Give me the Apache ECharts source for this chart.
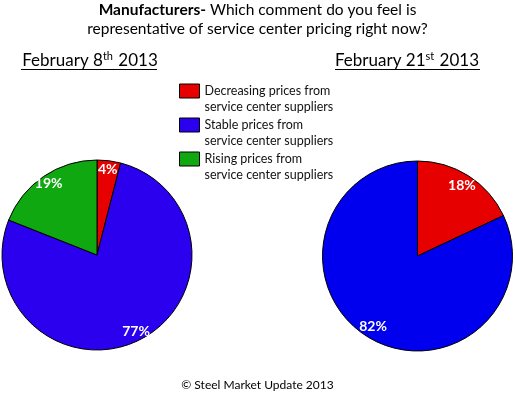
<!DOCTYPE html>
<html>
<head>
<meta charset="utf-8">
<script src="https://cdn.jsdelivr.net/npm/echarts@6/dist/echarts.min.js"></script>
<style>html,body{margin:0;padding:0;background:#fff;}#c{width:515px;height:394px;}</style>
</head>
<body>
<div id="c"></div>
<script>
var categories = ['Decreasing prices from\nservice center suppliers', 'Stable prices from\nservice center suppliers', 'Rising prices from\nservice center suppliers'];
var feb8Values = [4, 77, 19];
var feb21Values = [18, 82];
var feb8Colors = ['#e60000', '#2a00ee', '#10a810'];
var feb21Colors = ['#e60000', '#0000ee'];
var titleLine1 = '{b|Manufacturers-} Which comment do you feel is';
var titleLine2 = 'representative of service center pricing right now?';
var footerText = '\u00a9 Steel Market Update 2013';

var FONT = 'Lato, "Open Sans", sans-serif';

function mainPie(values, colors, center) {
  return {
    type: 'pie', center: center, radius: 95, startAngle: 90, clockwise: true,
    silent: true, animation: false, z: 2,
    label: { show: false }, labelLine: { show: false },
    itemStyle: { borderColor: '#000', borderWidth: 1 },
    data: values.map(function (v, i) {
      return { name: categories[i], value: v, itemStyle: { color: colors[i] } };
    })
  };
}

function labelPie(values, colors, center, r) {
  return {
    type: 'pie', center: center, radius: [0, r], startAngle: 90, clockwise: true,
    silent: true, animation: false, z: 3,
    itemStyle: { color: 'rgba(0,0,0,0)', borderWidth: 0 },
    label: {
      show: true, position: 'inside', color: '#fff', fontFamily: FONT,
      fontWeight: 'bold', fontSize: 14,
      textBorderWidth: 0, textBorderColor: 'rgba(0,0,0,0)', textShadowBlur: 0,
      formatter: '{c}%'
    },
    labelLine: { show: false },
    data: values.map(function (v, i) {
      return { name: categories[i], value: v };
    })
  };
}

var subRich = {
  a: { fontFamily: FONT, fontSize: 17, fontWeight: 'normal', color: '#000' },
  s: { fontFamily: FONT, fontSize: 11, fontWeight: 'normal', color: '#000', padding: [0, 1, 8, 0] }
};

var chart = echarts.init(document.getElementById('c'), null, { renderer: 'canvas' });
chart.setOption({
  backgroundColor: '#fff',
  animation: false,
  title: [
    { text: titleLine1, left: 'center', top: 2, padding: 0,
      textStyle: { fontFamily: FONT, fontSize: 15.5, fontWeight: 'normal', color: '#000',
        rich: { b: { fontFamily: FONT, fontSize: 15.5, fontWeight: 'bold', color: '#000' } } } },
    { text: titleLine2, left: 'center', top: 21, padding: 0,
      textStyle: { fontFamily: FONT, fontSize: 15.5, fontWeight: 'normal', color: '#000' } },
    { text: '{a|February 8}{s|th}{a| 2013}', left: 85, textAlign: 'center', top: 46,
      textStyle: { fontWeight: 'normal', rich: subRich } },
    { text: '{a|February 21}{s|st}{a| 2013}', left: 402, textAlign: 'center', top: 46,
      textStyle: { fontWeight: 'normal', rich: subRich } },
    { text: footerText, left: 'center', top: 379, padding: 0,
      textStyle: { fontFamily: FONT, fontSize: 12, fontWeight: 'normal', color: '#000' } }
  ],
  graphic: [
    { type: 'line', shape: { x1: 21, y1: 69.5, x2: 157, y2: 69.5 }, style: { stroke: '#000', lineWidth: 1 } },
    { type: 'line', shape: { x1: 335, y1: 69.5, x2: 480, y2: 69.5 }, style: { stroke: '#000', lineWidth: 1 } }
  ],
  legend: {
    data: categories, orient: 'vertical', left: 179, top: 67, padding: 0,
    itemWidth: 20, itemHeight: 14, itemGap: -14, icon: 'rect', selectedMode: false,
    itemStyle: { borderColor: '#000', borderWidth: 1 },
    formatter: function (name) { return '\n' + name; },
    textStyle: { fontFamily: FONT, fontSize: 12.5, color: '#111', lineHeight: 16 }
  },
  series: [
    mainPie(feb8Values, feb8Colors, [97, 255]),
    mainPie(feb21Values, feb21Colors, [417.5, 256]),
    labelPie(feb8Values, feb8Colors, [97, 255], 166),
    labelPie(feb21Values, feb21Colors, [417.5, 256], 160)
  ]
});
</script>
</body>
</html>
